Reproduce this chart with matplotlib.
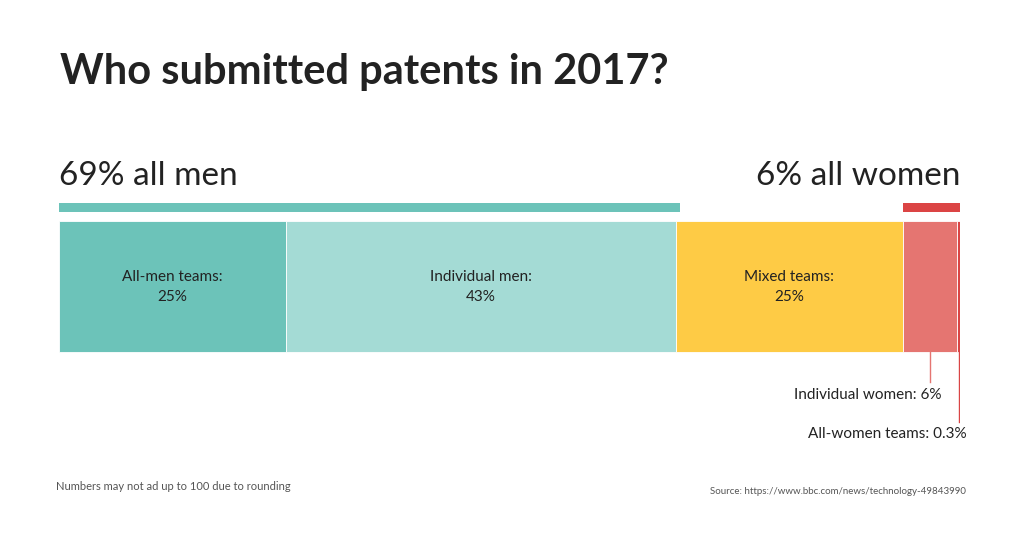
import matplotlib.pyplot as plt
import numpy as np

categories = ["All-men teams", "Individual men", "Mixed teams", "Individual women", "All-women teams"]
shares = [25, 43, 25, 6, 0.3]
colors = ["#6cc3b9", "#a4dbd5", "#fecb45", "#e57571", "#d94545"]
inside_labels = ["All-men teams:\n25%", "Individual men:\n43%", "Mixed teams:\n25%", "", ""]
men_total = 68.4
women_total = 6.3

plt.rcParams['font.family'] = ['Lato', 'DejaVu Sans']

fig = plt.figure(figsize=(10.24, 5.34), dpi=100)
fig.patch.set_facecolor("white")
total = sum(shares)
ax = fig.add_axes([59 / 1024, 0, 901 / 1024, 1])
ax.set_xlim(0, total)
ax.set_ylim(534, 0)
ax.axis("off")

lefts = np.concatenate([[0], np.cumsum(shares)[:-1]])
ax.barh(286.5, shares, left=lefts, height=131, color=colors, edgecolor="white", linewidth=0.6)
for l, w, lab in zip(lefts, shares, inside_labels):
    if lab:
        ax.text(l + w / 2, 287, lab, ha="center", va="center", fontsize=11, color="#222", linespacing=1.6)

# summary bars
ax.barh(207.5, men_total, left=0, height=9, color="#6cc3b9")
ax.barh(207.5, women_total, left=total - women_total, height=9, color="#db4444")
ax.text(0, 176, "69% all men", ha="left", va="center", fontsize=24, color="#222")
ax.text(total, 176, "6% all women", ha="right", va="center", fontsize=24, color="#222")

# callouts for small segments
x_iw = lefts[3] + shares[3] / 2
x_aw = lefts[4] + shares[4] / 2
ax.plot([x_iw, x_iw], [352, 382], color="#e57571", lw=1)
ax.plot([x_aw, x_aw], [352, 422], color="#d94545", lw=1)
ax.text(x_iw + 1.3, 395, "Individual women: 6%", ha="right", va="center", fontsize=11, color="#222")
ax.text(total + 0.7, 434, "All-women teams: 0.3%", ha="right", va="center", fontsize=11, color="#222")

fig.text(60 / 1024, 1 - 72 / 534, "Who submitted patents in 2017?", ha="left", va="center",
         fontsize=30, fontweight="bold", color="#222")
fig.text(56 / 1024, 1 - 486 / 534, "Numbers may not ad up to 100 due to rounding", ha="left", va="center",
         fontsize=8, color="#555")
fig.text(966 / 1024, 1 - 492 / 534, "Source: https://www.bbc.com/news/technology-49843990", ha="right",
         va="center", fontsize=7, color="#555")

fig.savefig("out.png", dpi=100)
